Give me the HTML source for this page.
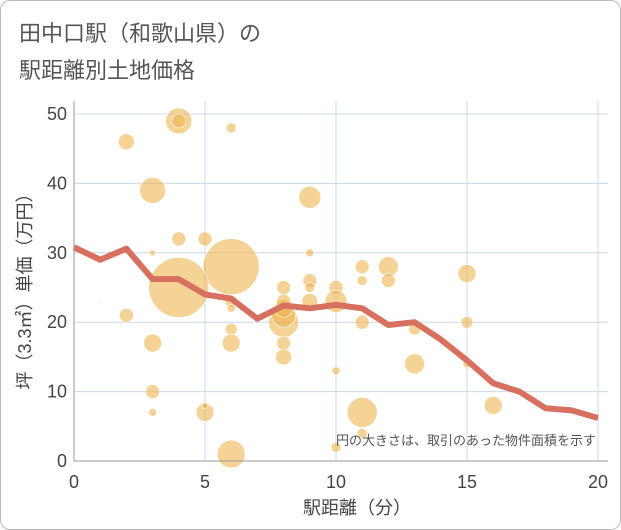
<!DOCTYPE html>
<html><head><meta charset="utf-8"><style>
body{margin:0;background:#fff;font-family:"Liberation Sans","Noto Sans CJK JP",sans-serif;}
#wrap{position:absolute;left:0;top:0;width:619px;height:528px;border:1px solid #bbb;border-radius:10px;overflow:hidden;}
</style></head><body>
<div id="wrap">
<svg id="c" width="621" height="530">
<text x="18" y="40" font-size="22" fill="#555">田中口駅（和歌山県）の</text>
<text x="18" y="77" font-size="22" fill="#555">駅距離別土地価格</text>
<g id="grid"></g><g id="bub"></g><g id="ln"></g><g id="ax"></g>
<text x="595" y="444" font-size="13" fill="#555" text-anchor="end">円の大きさは、取引のあった物件面積を示す</text>
<text x="356" y="513" font-size="18" fill="#444" text-anchor="middle">駅距離（分）</text>
<text transform="translate(30,286) rotate(-90)" font-size="18" fill="#444" text-anchor="middle">坪（3.3㎡）単価（万円）</text>
</svg></div>
<script>
const xTicks=[0,5,10,15,20];
const yTicks=[0,10,20,30,40,50];
const bubX=[2,4,4,6,3,9,4,5,3,6,4,1,2,3,3,3,5,5,6,6,6,6,6,8,8,8,8,8,8,8,9,9,9,9,10,10,10,10,11,11,11,11,11,12,12,13,13,15,15,15,16];
const bubY=[46,49,49,48,39,38,32,32,30,28,25,23,21,17,10,7,7,8,23,22,19,17,1,20,21,22,25,23,17,15,30,26,25,23,25,23,13,2,28,26,20,7,4,28,26,19,14,27,20,14,8];
const bubR=[8,13,7,5,13,11,7,7,3,28,30,1,7,9,7,4,9,3,6,4,6,9,14,15,12,9,7,7,7,8,4,7,5,8,7,11,4,5,7,5,7,15,5,10,7,6,10,9,6,4,9];
const lineX=[0,1,2,3,4,5,6,7,8,9,10,11,12,13,14,15,16,17,18,19,20];
const lineY=[30.8,29,30.6,26.2,26.2,24,23.4,20.5,22.4,22,22.5,22,19.6,20,17.5,14.5,11.2,10,7.6,7.3,6.2];
const X0=73,X1=597,Y0=460,Y1=113;
const sx=v=>X0+(X1-X0)*v/20, sy=v=>Y0-(Y0-Y1)*v/50;
const NS="http://www.w3.org/2000/svg";
function mk(p,t,a){const e=document.createElementNS(NS,t);for(const k in a)e.setAttribute(k,a[k]);p.appendChild(e);return e;}
const g=document.getElementById('grid'),ax=document.getElementById('ax'),b=document.getElementById('bub'),ln=document.getElementById('ln');
xTicks.forEach(v=>{const l=mk(g,'line',{x1:sx(v),x2:sx(v),y1:100,y2:Y0,stroke:'#c8d8e8','stroke-width':1});


const t=mk(ax,'text',{x:sx(v),y:487,'font-size':18,fill:'#444','text-anchor':'middle'});t.textContent=v;

});
yTicks.forEach(v=>{const l=mk(g,'line',{x1:X0,x2:X1+10,y1:sy(v),y2:sy(v),stroke:'#c8d8e8','stroke-width':1});


const t=mk(ax,'text',{x:66,y:sy(v)+6,'font-size':18,fill:'#444','text-anchor':'end'});t.textContent=v;

});
const fr=mk(ax,'path',{d:`M${X0},100 V${Y0} H${X1+10}`,fill:'none',stroke:'#999','stroke-width':1});


bubX.forEach((x,i)=>{const c=mk(b,'circle',{cx:sx(x),cy:sy(bubY[i]),r:bubR[i],fill:'rgba(238,180,80,0.6)',stroke:'#fff','stroke-width':0.6});

});
const p=mk(ln,'polyline',{points:lineX.map((x,i)=>sx(x)+','+sy(lineY[i])).join(' '),fill:'none',stroke:'#d87060','stroke-width':6,'stroke-linejoin':'round'});


</script></body></html>
